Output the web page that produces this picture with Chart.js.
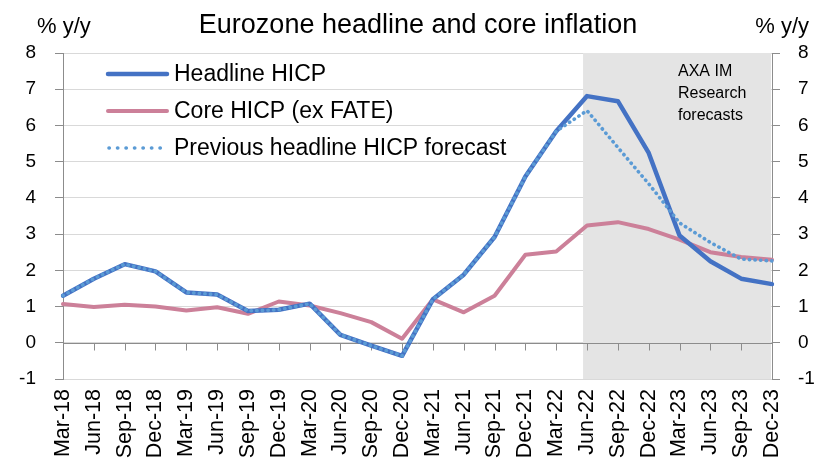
<!DOCTYPE html>
<html>
<head>
<meta charset="utf-8">
<script src="https://cdn.jsdelivr.net/npm/chart.js@4/dist/chart.umd.min.js"></script>
<style>
html,body{margin:0;padding:0;background:#fff;}
canvas{display:block;}
</style>
</head>
<body>
<canvas id="c" width="830" height="470"></canvas>
<script>
// ---- data ----
const categories = ['Mar-18','Jun-18','Sep-18','Dec-18','Mar-19','Jun-19','Sep-19','Dec-19',
  'Mar-20','Jun-20','Sep-20','Dec-20','Mar-21','Jun-21','Sep-21','Dec-21',
  'Mar-22','Jun-22','Sep-22','Dec-22','Mar-23','Jun-23','Sep-23','Dec-23'];
const headlineHICP = [1.30,1.77,2.17,1.97,1.39,1.33,0.88,0.91,1.08,0.22,-0.08,-0.36,
  1.20,1.88,2.92,4.59,5.84,6.81,6.67,5.24,2.96,2.25,1.77,1.62];
const coreHICP = [1.07,0.99,1.05,1.00,0.89,0.98,0.80,1.14,1.03,0.82,0.57,0.11,
  1.20,0.84,1.30,2.43,2.52,3.24,3.33,3.14,2.85,2.50,2.37,2.29];
const previousHeadlineForecast = [1.30,1.77,2.17,1.97,1.39,1.33,0.88,0.91,1.08,0.22,-0.08,-0.36,
  1.20,1.88,2.92,4.59,5.84,6.41,5.39,4.39,3.31,2.77,2.31,2.26];
const yTickValues = [-1,0,1,2,3,4,5,6,7,8];
const forecastStart = 'Jun-22';
const seriesNames = ['Headline HICP','Core HICP (ex FATE)','Previous headline HICP forecast'];
const titleText = 'Eurozone headline and core inflation';
const axisTitle = '% y/y';
const forecastNote = ['AXA IM','Research','forecasts'];

const FONT = "'Liberation Sans', Arial, sans-serif";
const AXIS_GREY = '#8c8c8c';

const overlay = {
  id: 'overlay',
  beforeDatasetsDraw(chart) {
    const {ctx, chartArea: a, scales: {x, y}} = chart;
    const xs = x.getPixelForValue(categories.indexOf(forecastStart)) - 4;
    ctx.save();
    ctx.fillStyle = '#e4e4e4';
    ctx.fillRect(xs, a.top, a.right - 1 - xs, a.bottom - a.top);
    const y0 = Math.round(y.getPixelForValue(0)) + 0.5;
    ctx.strokeStyle = AXIS_GREY;
    ctx.lineWidth = 1;
    ctx.beginPath();
    ctx.moveTo(a.left, y0); ctx.lineTo(a.right, y0);
    categories.forEach((c, i) => {
      const px = Math.round(x.getPixelForValue(i)) + 0.5;
      ctx.moveTo(px, y0); ctx.lineTo(px, y0 + 7);
    });
    ctx.stroke();
    ctx.restore();
  },
  afterDatasetsDraw(chart) {
    const {ctx} = chart;
    ctx.save();
    ctx.fillStyle = '#000';
    // title
    ctx.font = '27px ' + FONT;
    ctx.textAlign = 'center';
    ctx.textBaseline = 'alphabetic';
    ctx.fillText(titleText, 418, 33);
    // axis titles
    ctx.font = '22px ' + FONT;
    ctx.textAlign = 'left';
    ctx.fillText(axisTitle, 37, 33);
    ctx.textAlign = 'right';
    ctx.fillText(axisTitle, 809, 33);
    // forecast note
    ctx.font = '16px ' + FONT;
    ctx.textAlign = 'left';
    forecastNote.forEach((t, i) => ctx.fillText(t, 678, 76 + i * 22));
    // legend
    const rows = [74, 111, 148];
    chart.data.datasets.forEach((ds, i) => {
      const ly = rows[i];
      ctx.save();
      ctx.strokeStyle = ds.borderColor;
      ctx.lineWidth = ds.borderWidth;
      ctx.lineCap = 'round';
      ctx.beginPath();
      if (ds.borderDash) {
        ctx.setLineDash([0.3, 8.2]);
        ctx.moveTo(109, ly); ctx.lineTo(161, ly);
      } else {
        ctx.moveTo(108, ly); ctx.lineTo(167, ly);
      }
      ctx.stroke();
      ctx.restore();
      ctx.font = '23px ' + FONT;
      ctx.textAlign = 'left';
      ctx.textBaseline = 'middle';
      ctx.fillStyle = '#000';
      ctx.fillText(ds.label, 174, ly + 1);
    });
    ctx.restore();
  }
};

const yTicksCfg = {
  color: '#000',
  font: {size: 19, family: FONT},
  autoSkip: false
};

new Chart(document.getElementById('c'), {
  type: 'line',
  data: {
    labels: categories,
    datasets: [
      {label: seriesNames[0], data: headlineHICP, borderColor: '#4472c4', borderWidth: 4.5,
       pointRadius: 0, tension: 0, borderCapStyle: 'round', borderJoinStyle: 'round', order: 1},
      {label: seriesNames[1], data: coreHICP, borderColor: '#cc8099', borderWidth: 4,
       pointRadius: 0, tension: 0, borderCapStyle: 'round', borderJoinStyle: 'round', order: 2},
      {label: seriesNames[2], data: previousHeadlineForecast, borderColor: '#5b9bd5', borderWidth: 3.6,
       borderDash: [0.3, 5.3], pointRadius: 0, tension: 0, borderCapStyle: 'round', borderJoinStyle: 'round', order: 0}
    ]
  },
  options: {
    responsive: false,
    animation: false,
    devicePixelRatio: 1,
    layout: {padding: {top: 53, bottom: 1, left: 0, right: 0}},
    plugins: {legend: {display: false}, title: {display: false}, tooltip: {enabled: false}},
    scales: {
      x: {
        type: 'category',
        offset: false,
        grid: {display: false, drawTicks: false},
        border: {display: false},
        ticks: {autoSkip: false, minRotation: 90, maxRotation: 90, padding: 10,
                color: '#000', font: {size: 21.5, family: FONT}},
        afterFit(s) { s.height = 90; }
      },
      y: {
        position: 'left',
        min: -1, max: 8,
        afterBuildTicks(s) { s.ticks = yTickValues.map(v => ({value: v})); },
        ticks: Object.assign({padding: 19}, yTicksCfg),
        grid: {color: '#d9d9d9', lineWidth: 1, tickColor: AXIS_GREY, tickLength: 8, drawTicks: true},
        border: {display: true, color: AXIS_GREY, width: 1},
        afterFit(s) { s.width = 63; }
      },
      y2: {
        position: 'right',
        display: true,
        min: -1, max: 8,
        afterBuildTicks(s) { s.ticks = yTickValues.map(v => ({value: v})); },
        ticks: Object.assign({padding: 18}, yTicksCfg),
        grid: {drawOnChartArea: false, tickColor: AXIS_GREY, tickLength: 8, drawTicks: true},
        border: {display: true, color: AXIS_GREY, width: 1},
        afterFit(s) { s.width = 58; }
      }
    }
  },
  plugins: [overlay]
});
</script>
</body>
</html>
